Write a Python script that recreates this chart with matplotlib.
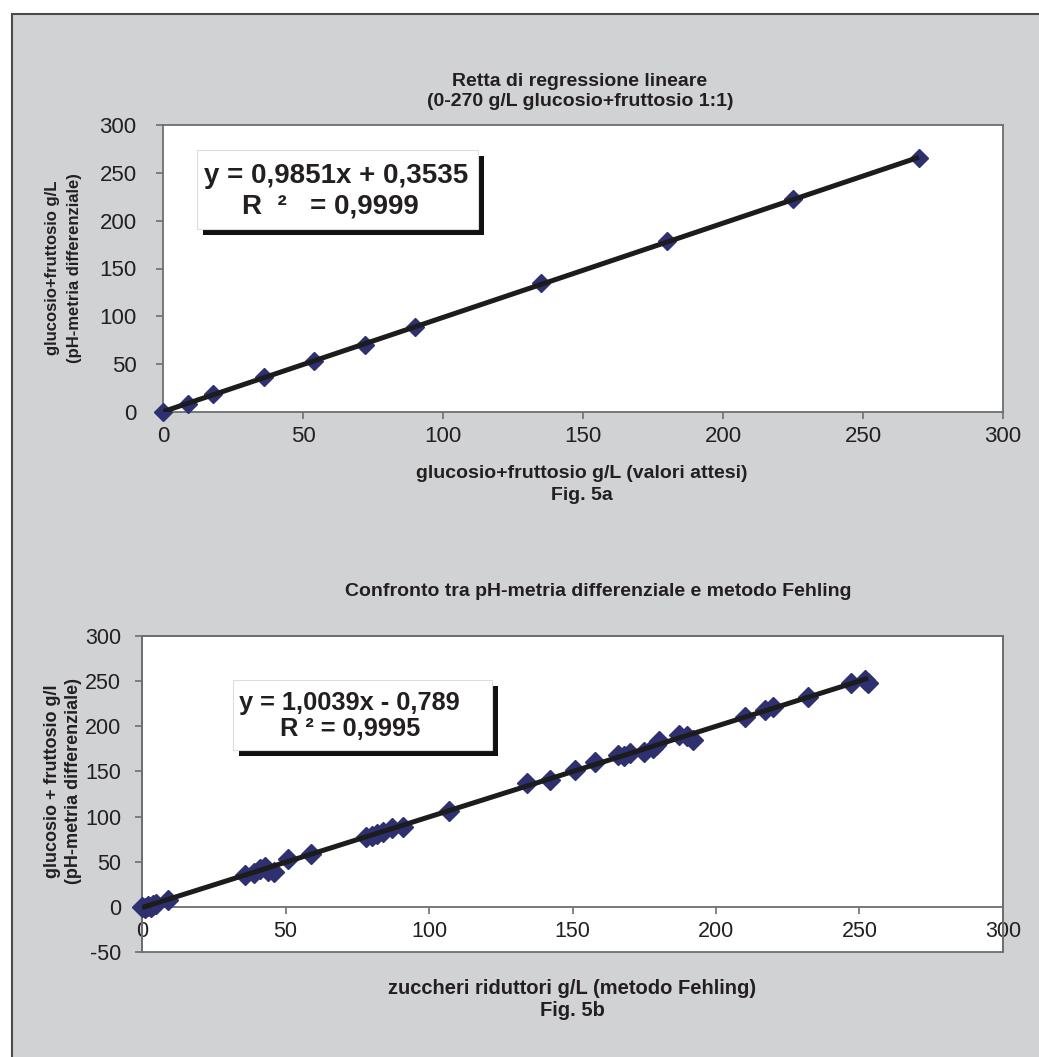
import matplotlib
matplotlib.use('Agg')
import matplotlib.pyplot as plt
from matplotlib.patches import Rectangle
import numpy as np

# ---------------- data ----------------
# Fig. 5a : expected vs measured (glucose+fructose 1:1)
exp_x = [0, 9, 18, 36, 54, 72, 90, 135, 180, 225, 270]
meas_y = [0.5, 8.6, 18.4, 36.8, 52.9, 70.2, 88.5, 134.8, 178.3, 222.6, 265.8]
fit_a_slope = 0.9851
fit_a_icpt = 0.3535
eq_a = ["y = 0,9851x + 0,3535", "R  \u00b2   = 0,9999"]

# Fig. 5b : Fehling vs differential pH-metry
fehling_x = [0, 1, 2, 3, 4, 5, 9,
             36, 39, 41, 43, 44, 46,
             51, 59,
             78, 80, 82, 84, 87, 91,
             107,
             134, 142, 151, 158,
             166, 168, 170, 175, 178, 179, 180,
             187, 190, 192,
             210, 217, 220, 232,
             247, 253, 252]
phm_y = [0, -1, 1, 0, 2, 3, 8,
         35, 38, 42, 44, 40, 39,
         53, 59,
         77, 79, 81, 83, 87, 89,
         106,
         137, 141, 152, 160,
         168, 167, 170, 171, 176, 179, 184,
         190, 189, 185,
         210, 218, 221, 232,
         248, 248, 251]
fit_b_slope = 1.0039
fit_b_icpt = -0.789
eq_b = ["y = 1,0039x - 0,789", "R \u00b2 = 0,9995"]

ticks_a = [0, 50, 100, 150, 200, 250, 300]
yticks_b = [-50, 0, 50, 100, 150, 200, 250, 300]

# ---------------- style ----------------
plt.rcParams['font.family'] = ['Liberation Sans', 'DejaVu Sans']
plt.rcParams['axes.unicode_minus'] = False
W, H = 1039, 1057
fig = plt.figure(figsize=(W / 100, H / 100), dpi=100)
fig.patch.set_facecolor('white')

def fx(px):
    return px / W

def fy(py):
    return 1 - py / H

BG = '#d1d2d4'
FRAME = '#6d6e71'
MARK = '#2e3070'
LINE = '#1c1c1c'
TXT = '#231f20'

fig.add_artist(Rectangle((fx(12), -0.1), 1.2, fy(14) + 0.1, transform=fig.transFigure,
                         facecolor=BG, edgecolor='#4a4a4c', lw=1.5, zorder=-1))

def label(px, py, s, size, rot=0, z=3):
    fig.text(fx(px), fy(py), s, ha='center', va='center', rotation=rot,
             fontsize=size, fontweight='bold', color=TXT, zorder=z)

def style_axes(ax, tick_size, ypad, xpad):
    ax.set_facecolor('white')
    for s in ax.spines.values():
        s.set_color(FRAME)
        s.set_linewidth(1.3)
    ax.tick_params(direction='out', length=5, width=1.2, color=FRAME,
                   labelsize=tick_size, labelcolor=TXT)
    ax.tick_params(axis='y', pad=ypad)
    ax.tick_params(axis='x', pad=xpad)

# ---------------- top chart ----------------
ax1 = fig.add_axes([fx(163), fy(412), fx(1003) - fx(163), (412 - 125) / H])
style_axes(ax1, 16, 14, 5)
ax1.set_xlim(0, 300)
ax1.set_ylim(0, 300)
ax1.set_xticks(ticks_a)
ax1.set_yticks(ticks_a)
ax1.plot(exp_x, meas_y, linestyle='none', marker='D', markersize=9.5,
         markerfacecolor=MARK, markeredgecolor=MARK, clip_on=False, zorder=3)
xa = np.array([min(exp_x), max(exp_x)])
ax1.plot(xa, fit_a_slope * xa + fit_a_icpt, color=LINE, lw=3.6, zorder=4,
         solid_capstyle='butt')

label(580, 82, "Retta di regressione lineare", 14)
label(580, 102, "(0-270 g/L glucosio+fruttosio 1:1)", 14)
label(53, 268, "glucosio+fruttosio g/L", 12, rot=90)
label(74, 268, "(pH-metria differenziale)", 12, rot=90)
label(582, 474, "glucosio+fruttosio g/L (valori attesi)", 14)
label(582, 495, "Fig. 5a", 14)

# equation box top
fig.add_artist(Rectangle((fx(203), fy(235)), fx(484) - fx(203), (235 - 156) / H,
                         transform=fig.transFigure, facecolor='#111111', edgecolor='none', zorder=5))
fig.add_artist(Rectangle((fx(197), fy(229)), fx(478) - fx(197), (229 - 150) / H,
                         transform=fig.transFigure, facecolor='white', edgecolor='#dddddd',
                         lw=0.8, zorder=6))
label(336, 176, eq_a[0], 20, z=7)
label(330, 206, eq_a[1], 20, z=7)

# ---------------- bottom chart ----------------
ax2 = fig.add_axes([fx(142), fy(952), fx(1003) - fx(142), (952 - 636) / H])
style_axes(ax2, 15.5, 10, 5)
ax2.set_xlim(0, 300)
ax2.set_ylim(-50, 300)
ax2.set_xticks(ticks_a)
ax2.set_yticks(yticks_b)
ax2.spines['bottom'].set_position(('data', 0))
ax2.add_patch(Rectangle((0, 0), 1, 1, transform=ax2.transAxes, fill=False,
                        edgecolor=FRAME, lw=1.3, clip_on=False, zorder=2))
ax2.plot(fehling_x, phm_y, linestyle='none', marker='D', markersize=10,
         markerfacecolor=MARK, markeredgecolor=MARK, clip_on=False, zorder=3)
xb = np.array([min(fehling_x), max(fehling_x)])
ax2.plot(xb, fit_b_slope * xb + fit_b_icpt, color=LINE, lw=3.6, zorder=4,
         solid_capstyle='butt')

label(598, 592, "Confronto tra pH-metria differenziale e metodo Fehling", 14)
label(53, 781, "glucosio + fruttosio g/l", 13, rot=90)
label(73, 781, "(pH-metria differenziale)", 13, rot=90)
label(572, 988, "zuccheri riduttori g/L (metodo Fehling)", 14.5)
label(572, 1010, "Fig. 5b", 14.5)

# equation box bottom
fig.add_artist(Rectangle((fx(239), fy(756)), fx(498) - fx(239), (756 - 686) / H,
                         transform=fig.transFigure, facecolor='#111111', edgecolor='none', zorder=5))
fig.add_artist(Rectangle((fx(233), fy(750)), fx(492) - fx(233), (750 - 680) / H,
                         transform=fig.transFigure, facecolor='white', edgecolor='#dddddd',
                         lw=0.8, zorder=6))
label(349, 703, eq_b[0], 18.3, z=7)
label(350, 729, eq_b[1], 18.3, z=7)

fig.savefig('out.png', dpi=100, facecolor='white')
